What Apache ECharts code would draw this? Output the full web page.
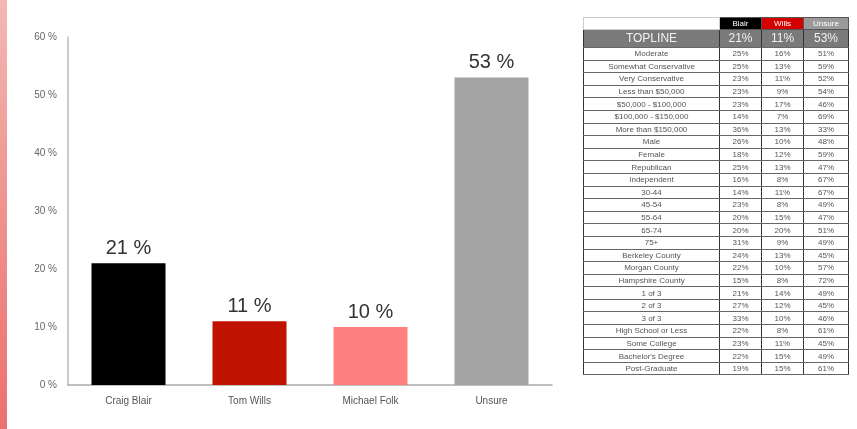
<!DOCTYPE html>
<html>
<head>
<meta charset="utf-8">
<script src="https://cdn.jsdelivr.net/npm/echarts@6/dist/echarts.min.js"></script>
<style>
  html, body { margin: 0; padding: 0; background: #fff; }
  #wrap { position: relative; width: 857px; height: 429px; overflow: hidden; }
  #chart { position: absolute; left: 0; top: 0; width: 857px; height: 429px; }
  #strip { position: absolute; left: 0; top: 0; width: 7px; height: 429px;
           background: linear-gradient(to bottom, #f3b8b4, #ef9590 45%, #ec7070); }
  #tbl { position: absolute; left: 583px; top: 17px; width: 265px;
         border-collapse: collapse; table-layout: fixed;
         font-family: "Liberation Sans", Arial, sans-serif; color: #555; }
  #tbl td { padding: 0; text-align: center; white-space: nowrap; overflow: hidden;
            font-size: 8px; height: 11.6px; line-height: 11px;
            border-top: 1px solid #666; border-bottom: 1px solid #666;
            border-left: 1px solid #333; border-right: 1px solid #333; }
  #tbl tr.hdr td { height: 11px; line-height: 11px; font-size: 8px; color: #fff; border: 1px solid #555; }
  #tbl tr.hdr td.blank { background: #fff; border: 1px solid #ccc; }
  #tbl tr.top td { height: 17px; line-height: 17px; font-size: 12px; background: #7a7a7a; color: #f2f2f2; }
</style>
</head>
<body>
<div id="wrap">
  <div id="chart"></div>
  <div id="strip"></div>
  <table id="tbl"></table>
</div>
<script>
// ---- bar chart data ----
const categories = ['Craig Blair', 'Tom Wills', 'Michael Folk', 'Unsure'];
const values = [21, 11, 10, 53];
const barColors = ['#000000', '#c01200', '#ff8080', '#a3a3a3'];
const yTicks = [0, 10, 20, 30, 40, 50, 60];

// ---- crosstab table data ----
const tableHeaders = ['Blair', 'Wills', 'Unsure'];
const headerColors = ['#000000', '#d40000', '#9a9a9a'];
const toplineLabel = 'TOPLINE';
const toplineValues = [21, 11, 53];
const rowLabels = ['Moderate', 'Somewhat Conservative', 'Very Conservative', 'Less than $50,000',
  '$50,000 - $100,000', '$100,000 - $150,000', 'More than $150,000', 'Male', 'Female',
  'Republican', 'Independent', '30-44', '45-54', '55-64', '65-74', '75+',
  'Berkeley County', 'Morgan County', 'Hampshire County', '1 of 3', '2 of 3', '3 of 3',
  'High School or Less', 'Some College', "Bachelor's Degree", 'Post-Graduate'];
const blairPct  = [25, 25, 23, 23, 23, 14, 36, 26, 18, 25, 16, 14, 23, 20, 20, 31, 24, 22, 15, 21, 27, 33, 22, 23, 22, 19];
const willsPct  = [16, 13, 11, 9, 17, 7, 13, 10, 12, 13, 8, 11, 8, 15, 20, 9, 13, 10, 8, 14, 12, 10, 8, 11, 15, 15];
const unsurePct = [51, 59, 52, 54, 46, 69, 33, 48, 59, 47, 67, 67, 49, 47, 51, 49, 45, 57, 72, 49, 45, 46, 61, 45, 49, 61];

// build table
(function () {
  const t = document.getElementById('tbl');
  let html = '<colgroup><col style="width:136px"><col style="width:42px"><col style="width:42px"><col style="width:45px"></colgroup>';
  html += '<tr class="hdr"><td class="blank"></td>' +
    tableHeaders.map((h, i) => '<td style="background:' + headerColors[i] + '">' + h + '</td>').join('') + '</tr>';
  html += '<tr class="top"><td>' + toplineLabel + '</td>' +
    toplineValues.map(v => '<td>' + v + '%</td>').join('') + '</tr>';
  rowLabels.forEach((lab, i) => {
    html += '<tr><td>' + lab + '</td><td>' + blairPct[i] + '%</td><td>' + willsPct[i] +
      '%</td><td>' + unsurePct[i] + '%</td></tr>';
  });
  t.innerHTML = html;
})();

const chart = echarts.init(document.getElementById('chart'), null, { renderer: 'canvas' });
chart.setOption({
  animation: false,
  backgroundColor: 'transparent',
  grid: { left: 68, right: 305, top: 37, bottom: 44, containLabel: false },
  xAxis: {
    type: 'category',
    data: categories,
    axisLine: { show: true, lineStyle: { color: '#aaaaaa', width: 1.5 } },
    axisTick: { show: false },
    axisLabel: { color: '#555', fontSize: 10, margin: 11, fontFamily: 'Liberation Sans, Arial, sans-serif' }
  },
  yAxis: {
    type: 'value',
    min: yTicks[0],
    max: yTicks[yTicks.length - 1],
    interval: 10,
    axisLine: { show: true, lineStyle: { color: '#bbbbbb', width: 1.5 } },
    axisTick: { show: false },
    splitLine: { show: false },
    axisLabel: { color: '#666', fontSize: 10, margin: 11, formatter: '{value} %', fontFamily: 'Liberation Sans, Arial, sans-serif' }
  },
  series: [{
    type: 'bar',
    barWidth: 74,
    data: values.map((v, i) => ({ value: v, itemStyle: { color: barColors[i] } })),
    label: {
      show: true,
      position: 'top',
      distance: 5,
      formatter: '{c} %',
      fontSize: 20,
      color: '#333',
      fontFamily: 'Liberation Sans, Arial, sans-serif'
    }
  }]
});
</script>
</body>
</html>
